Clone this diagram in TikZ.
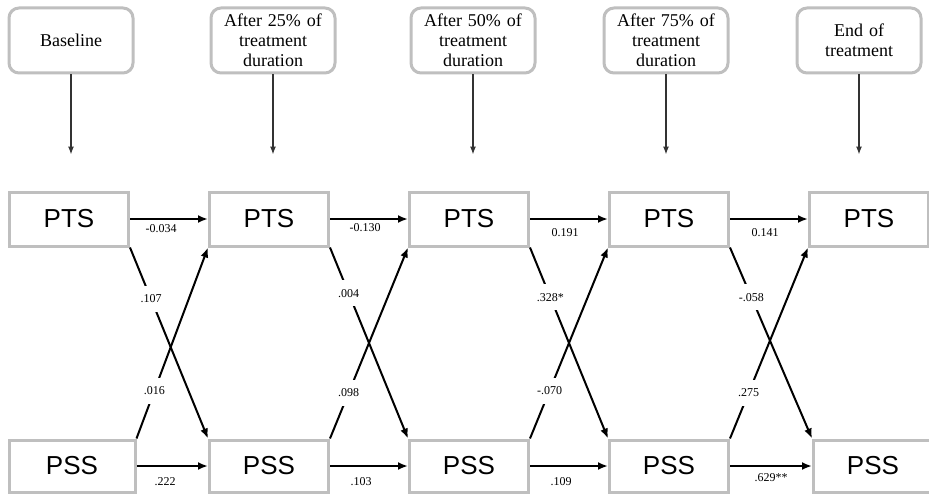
\documentclass[tikz,border=0pt]{standalone}
\usepackage{fontspec}
\setmainfont{Liberation Serif}
\setsansfont{Liberation Sans}
\usetikzlibrary{positioning}
\usetikzlibrary{arrows.meta}
\tikzset{
  box/.style            = { rectangle, minimum width=119pt, minimum height=54pt, inner sep=0pt },
  border/.style         = { line width=3pt, draw=black!25!white },
  round/.style          = { rounded corners=10pt },
}
\tikzset{
  measure/.style        = { box, border, font=\sffamily\fontsize{26}{28}\selectfont },
  stage/.style          = { box, border, round, minimum width=124pt, minimum height=65pt,
                            text width=124pt, align=center, font=\fontsize{18}{20}\selectfont },
  coef/.style           = { font=\fontsize{12}{12}\selectfont, inner sep=1pt },
  gapcoef/.style        = { coef, fill=white, inner ysep=9pt },
  effect/.style         = { line width=2pt, draw=black, -{Latex[length=10pt,width=8pt]} },
  timeline/.style       = { line width=1.2pt, draw=black!80!white, -{Latex[length=8pt,width=6pt]} }
}

\begin{document}
\begin{tikzpicture}[node distance=78pt]
  \useasboundingbox (0,0) rectangle (929pt,-495pt);

  % measurement occasions
  \node (pts1) [measure] at (69pt,-219pt) {PTS};
  \node (pts2) [measure,right=of pts1]    {PTS};
  \node (pts3) [measure,right=of pts2]    {PTS};
  \node (pts4) [measure,right=of pts3]    {PTS};
  \node (pts5) [measure,right=of pts4]    {PTS};

  \node (pss1) [measure,below=191pt of pts1,minimum width=126pt,minimum height=52pt,xshift=3pt] {PSS};
  \node (pss2) [measure,below=191pt of pts2,minimum height=52pt] {PSS};
  \node (pss3) [measure,below=191pt of pts3,minimum height=52pt] {PSS};
  \node (pss4) [measure,below=191pt of pts4,minimum height=52pt] {PSS};
  \node (pss5) [measure,below=191pt of pts5,minimum height=52pt,xshift=4pt] {PSS};

  % time points
  \node (baseline) [stage,above=116pt of pts1,xshift=2pt]  {Baseline};
  \node (quarter)  [stage,above=116pt of pts2,xshift=4pt]  {After 25\% of\\treatment\\duration};
  \node (half)     [stage,above=116pt of pts3,xshift=4pt]  {After 50\% of\\treatment\\duration};
  \node (threeq)   [stage,above=116pt of pts4,xshift=-3pt] {After 75\% of\\treatment\\duration};
  \node (final)    [stage,above=116pt of pts5,xshift=-10pt] {End of\\treatment};

  \coordinate [below=80pt of baseline] (baseline-end);
  \coordinate [below=80pt of quarter]  (quarter-end);
  \coordinate [below=80pt of half]     (half-end);
  \coordinate [below=80pt of threeq]   (threeq-end);
  \coordinate [below=80pt of final]    (final-end);

  \draw [timeline] (baseline) -- (baseline-end);
  \draw [timeline] (quarter)  -- (quarter-end);
  \draw [timeline] (half)     -- (half-end);
  \draw [timeline] (threeq)   -- (threeq-end);
  \draw [timeline] (final)    -- (final-end);

  % autoregressive paths
  \draw [effect] (pts1) -- node [coef,below=4pt,pos=0.4]  {-0.034} (pts2);
  \draw [effect] (pts2) -- node [coef,below=3pt,pos=0.45] {-0.130} (pts3);
  \draw [effect] (pts3) -- node [coef,below=8pt,pos=0.45] {0.191}  (pts4);
  \draw [effect] (pts4) -- node [coef,below=8pt,pos=0.45] {0.141}  (pts5);

  \draw [effect] (pss1) -- node [coef,below=10pt,pos=0.4]  {.222}   (pss2);
  \draw [effect] (pss2) -- node [coef,below=10pt,pos=0.4]  {.103}   (pss3);
  \draw [effect] (pss3) -- node [coef,below=10pt,pos=0.4]  {.109}   (pss4);
  \draw [effect] (pss4) -- node [coef,below=6pt,pos=0.5]   {.629**} (pss5);

  % cross-lagged paths
  \draw [effect] (pts1.south east) -- node [gapcoef,pos=0.27] {.107}  (pss2.north west);
  \draw [effect] (pss1.north east) -- node [gapcoef,pos=0.25] {.016}  (pts2.south west);
  \draw [effect] (pts2.south east) -- node [gapcoef,pos=0.24] {.004}  (pss3.north west);
  \draw [effect] (pss2.north east) -- node [gapcoef,pos=0.24] {.098}  (pts3.south west);
  \draw [effect] (pts3.south east) -- node [gapcoef,pos=0.26] {.328*} (pss4.north west);
  \draw [effect] (pss3.north east) -- node [gapcoef,pos=0.25] {-.070} (pts4.south west);
  \draw [effect] (pts4.south east) -- node [gapcoef,pos=0.26] {-.058} (pss5.north west);
  \draw [effect] (pss4.north east) -- node [gapcoef,pos=0.24] {.275}  (pts5.south west);
\end{tikzpicture}
\end{document}
